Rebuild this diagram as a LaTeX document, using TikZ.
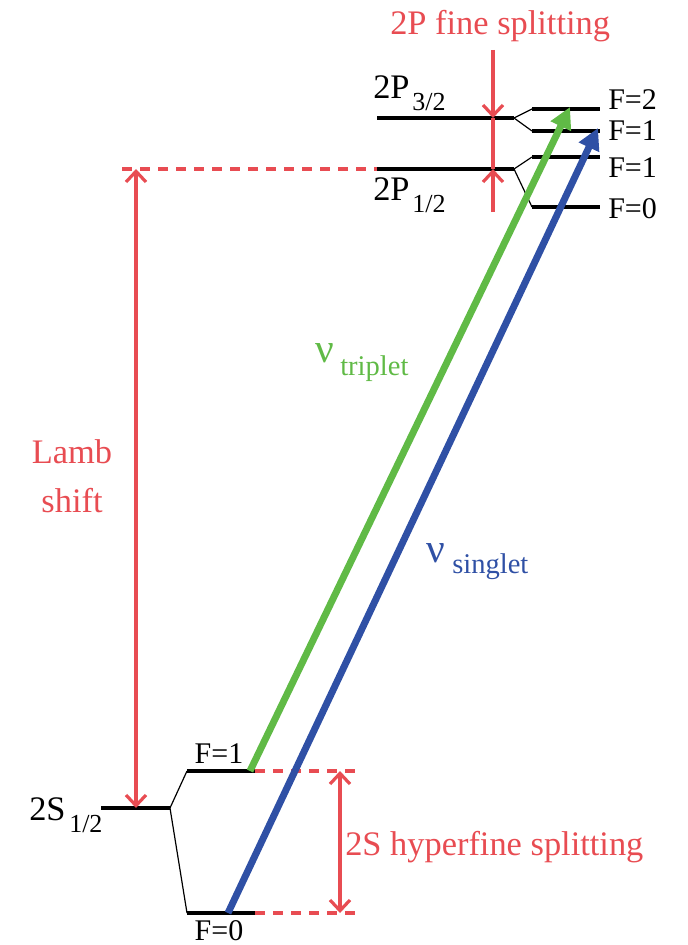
\documentclass[tikz,border=0pt]{standalone}
\usepackage{fontspec}
\setmainfont{Liberation Serif}
\usetikzlibrary{arrows.meta}
\definecolor{lred}{RGB}{232,76,82}
\definecolor{lgreen}{RGB}{96,186,70}
\definecolor{lblue}{RGB}{47,80,165}
\tikzset{
  level/.style={line width=3pt,black},
  thin/.style={line width=0.9pt,black},
  reddash/.style={lred,line width=2.6pt,dash pattern=on 7.5pt off 6pt},
  redarrow/.style={lred,line width=2.6pt},
  barb/.tip={Straight Barb[length=8pt,width=15pt,line width=2.4pt]},
  transition/.style={line width=5.2pt,-{Triangle[length=16pt,width=16pt]}},
  lbl/.style={inner sep=0pt,anchor=base west},
  main/.style={font=\fontsize{25.8}{29}\selectfont},
  sub/.style={font=\fontsize{19.5}{22}\selectfont},
  flbl/.style={font=\fontsize{22.5}{26}\selectfont},
  nu/.style={font=\fontsize{31}{34}\selectfont},
  nusub/.style={font=\fontsize{21.4}{24}\selectfont},
}
\begin{document}
\begin{tikzpicture}[x=0.75pt,y=-0.75pt]
\useasboundingbox (0,0) rectangle (687,945);
% coordinates
\coordinate (p32L) at (377,118); \coordinate (p32R) at (514,118);
\coordinate (p12L) at (377,169); \coordinate (p12R) at (514,169);
\coordinate (f2L) at (532,109);  \coordinate (f2R) at (600,109);
\coordinate (f1aL) at (532,131); \coordinate (f1aR) at (600,131);
\coordinate (f1bL) at (532,157); \coordinate (f1bR) at (600,157);
\coordinate (f0L) at (532,207);  \coordinate (f0R) at (600,207);
\coordinate (sL) at (101,808);   \coordinate (sR) at (170,808);
\coordinate (s1L) at (187,771);  \coordinate (s1R) at (255,771);
\coordinate (s0L) at (187,913);  \coordinate (s0R) at (255,913);
\coordinate (d1) at (358,771);   \coordinate (d0) at (358,913);
\coordinate (lambL) at (122,169);
\coordinate (la1) at (136,169);  \coordinate (la2) at (136,808);
\coordinate (fa1) at (493,50);   \coordinate (fa2) at (493,118);
\coordinate (fb1) at (493,212);  \coordinate (fb2) at (493,169);
\coordinate (h1) at (340,771);   \coordinate (h0) at (340,913);
\coordinate (gs) at (250,771);   \coordinate (gt) at (570,107);
\coordinate (bs) at (228,913);   \coordinate (bt) at (598,128);
% red dashed lines
\draw[reddash] (lambL) -- (p12L);
\draw[reddash] (s1R) -- (d1);
\draw[reddash] (s0R) -- (d0);
% levels
\draw[level] (p32L) -- (p32R);
\draw[level] (p12L) -- (p12R);
\draw[level] (f2L) -- (f2R);
\draw[level] (f1aL) -- (f1aR);
\draw[level] (f1bL) -- (f1bR);
\draw[level] (f0L) -- (f0R);
\draw[level] (sL) -- (sR);
\draw[level] (s1L) -- (s1R);
\draw[level] (s0L) -- (s0R);
% thin connectors
\draw[thin] (p32R) -- (f2L);
\draw[thin] (p32R) -- (f1aL);
\draw[thin] (p12R) -- (f1bL);
\draw[thin] (p12R) -- (f0L);
\draw[thin] (sR) -- (s1L);
\draw[thin] (sR) -- (s0L);
% red arrows
\draw[redarrow,barb-barb] (la1) -- (la2);
\draw[redarrow] (fa2) -- (fb2);
\draw[redarrow,-barb] (fa1) -- (fa2);
\draw[redarrow,-barb] (fb1) -- (fb2);
\draw[redarrow,barb-barb] (h1) -- (h0);
% transitions
\draw[transition,lgreen] (gs) -- (gt);
\draw[transition,lblue] (bs) -- (bt);
% labels
\node[lbl,main,lred] (tfine) at (390,35) {2P fine splitting};
\node[lbl,main,lred,anchor=base] (tlamb) at (72,463) {Lamb};
\node[lbl,main,lred,anchor=base] (tshift) at (72,512) {shift};
\node[lbl,main,lred] (thfs) at (345,855) {2S hyperfine splitting};
\node[lbl,main] (t2p32) at (373,99) {2P};
\node[lbl,sub] (t2p32s) at (412,111) {3/2};
\node[lbl,main] (t2p12) at (373,200) {2P};
\node[lbl,sub] (t2p12s) at (412,212) {1/2};
\node[lbl,main] (t2s) at (29,820) {2S};
\node[lbl,sub] (t2ss) at (69,832) {1/2};
\node[lbl,flbl] (tf2) at (608,110) {F=2};
\node[lbl,flbl] (tf1a) at (608,141) {F=1};
\node[lbl,flbl] (tf1b) at (608,177) {F=1};
\node[lbl,flbl] (tf0) at (608,218) {F=0};
\node[lbl,flbl,anchor=base] (ts1) at (219,763) {F=1};
\node[lbl,flbl,anchor=base] (ts0) at (219,940) {F=0};
\node[lbl,nu,lgreen] (tnut) at (315,362) {ν};
\node[lbl,nusub,lgreen] (tnuts) at (340,375) {triplet};
\node[lbl,nu,lblue] (tnus) at (426,562) {ν};
\node[lbl,nusub,lblue] (tnuss) at (452,573) {singlet};
\end{tikzpicture}
\end{document}
